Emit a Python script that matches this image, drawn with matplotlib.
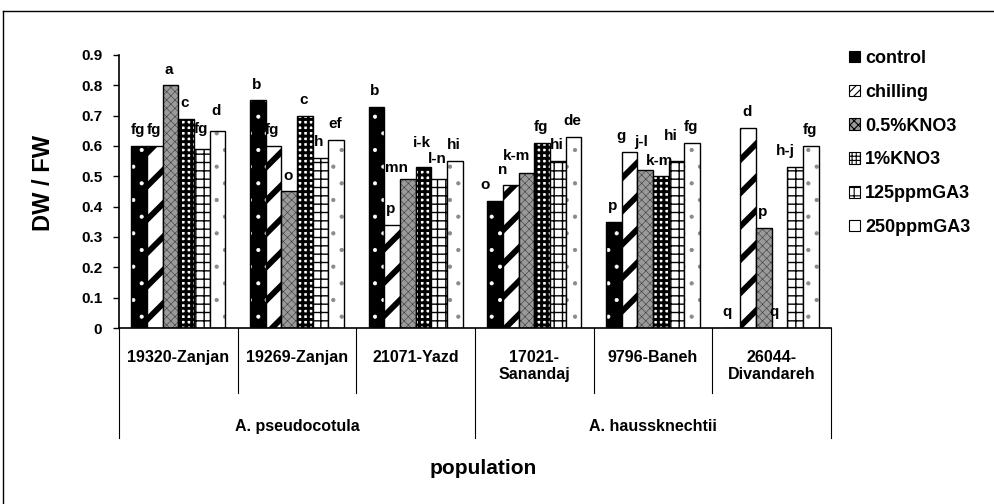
import numpy as np
import matplotlib
matplotlib.use('Agg')
import matplotlib.pyplot as plt
from matplotlib.patches import Patch
from matplotlib.lines import Line2D

plt.rcParams['font.family'] = ['Liberation Sans', 'DejaVu Sans']
plt.rcParams['font.weight'] = 'bold'

# populations (x categories) and the species they belong to
populations = ['19320-Zanjan', '19269-Zanjan', '21071-Yazd',
               '17021-\nSanandaj', '9796-Baneh', '26044-\nDivandareh']
species = ['A. pseudocotula', 'A. haussknechtii']
species_span = [3, 3]

treatments = ['control', 'chilling', '0.5%KNO3', '1%KNO3', '125ppmGA3', '250ppmGA3']

# DW / FW ratio per treatment, one value per population
control = [0.60, 0.75, 0.73, 0.42, 0.35, 0.00]
chilling = [0.60, 0.60, 0.34, 0.47, 0.58, 0.66]
kno3_05 = [0.80, 0.45, 0.49, 0.51, 0.52, 0.33]
kno3_1 = [0.69, 0.70, 0.53, 0.61, 0.50, 0.00]
ga3_125 = [0.59, 0.56, 0.49, 0.55, 0.55, 0.53]
ga3_250 = [0.65, 0.62, 0.55, 0.63, 0.61, 0.60]

# duncan letters, same order as the values
control_lbl = ['fg', 'b', 'b', 'o', 'p', 'q']
chilling_lbl = ['fg', 'fg', 'p', 'n', 'g', 'd']
kno3_05_lbl = ['a', 'o', 'mn', 'k-m', 'j-l', 'p']
kno3_1_lbl = ['c', 'c', 'i-k', 'fg', 'k-m', 'q']
ga3_125_lbl = ['fg', 'h', 'l-n', 'hi', 'hi', 'h-j']
ga3_250_lbl = ['d', 'ef', 'hi', 'de', 'fg', 'fg']

values = [control, chilling, kno3_05, kno3_1, ga3_125, ga3_250]
letters = [control_lbl, chilling_lbl, kno3_05_lbl, kno3_1_lbl, ga3_125_lbl, ga3_250_lbl]

# fill colour, hatch, hatch colour, hatch width for every treatment
styles = [
    ('black', '.', 'white', 0.5),
    ('white', '/', 'black', 4.2),
    ('#9a9a9a', 'xxxx', '#3a3a3a', 0.4),
    ('white', '+++', 'black', 2.1),
    ('white', '++', 'black', 1.0),
    ('white', '.', '#8a8a8a', 0.6),
]
# smaller patterns for the legend keys
legend_hatch = [None, '////', 'xxxx', '++++', '++', None]

# hand placed letters that would otherwise collide: (treatment, population) -> (dx, dy) in points
nudge = {(4, 0): (0, 3), (5, 0): (0, 3),
         (2, 2): (-7, -3), (3, 2): (0, 6), (4, 2): (0, 3),
         (0, 3): (-6, 0), (1, 3): (-5, 0), (2, 3): (-6, 1),
         (1, 4): (-5, 0), (2, 4): (-2, 9), (4, 4): (-3, 7),
         (0, 5): (-3, 0), (3, 5): (-3, 0), (4, 5): (-6, 0)}

fig = plt.figure(figsize=(9.94, 5.04), dpi=100)
ax = fig.add_axes([119/994, 1-328/504, (831-119)/994, (328-55)/504])

x = np.arange(len(populations))
w = 0.132

for i, (vals, lbls) in enumerate(zip(values, letters)):
    face, hatch, hcol, hlw = styles[i]
    pos = x + (i - 2.5) * w
    plt.rcParams['hatch.linewidth'] = hlw
    bars = ax.bar(pos, vals, w, color=face, hatch=hatch, edgecolor=hcol, linewidth=0)
    for b in bars:
        if hasattr(b, 'set_hatch_linewidth'):
            b.set_hatch_linewidth(hlw)
    # outline on top of the hatched fill
    ax.bar(pos, vals, w, fill=False, edgecolor='black', linewidth=1.0)
    for j, (p, v, t) in enumerate(zip(pos, vals, lbls)):
        dx, dy = nudge.get((i, j), (0, 0))
        ax.annotate(t, (p, v), xytext=(dx - 1, 8.5 + dy), textcoords='offset points',
                    ha='center', va='baseline', fontsize=11, fontweight='bold')

ax.set_xlim(-0.5, len(populations) - 0.5)
ax.set_ylim(0, 0.9)
ax.set_yticks(np.arange(0, 0.91, 0.1))
ax.set_yticklabels(['0'] + ['%.1f' % t for t in np.arange(0.1, 0.91, 0.1)])
ax.tick_params(axis='y', direction='out', length=4, width=1, pad=8, labelsize=11)
ax.set_xticks([])
for s in ['top', 'right']:
    ax.spines[s].set_visible(False)
ax.spines['left'].set_linewidth(1.2)
ax.spines['bottom'].set_linewidth(1.2)

# two level category axis under the bars
trans = ax.get_xaxis_transform()
bounds = np.arange(len(populations) + 1) - 0.5
species_edges = np.concatenate([[0], np.cumsum(species_span)]) - 0.5
for b in bounds:
    low = -0.403 if b in species_edges else -0.238
    ax.add_line(Line2D([b, b], [0, low], transform=trans, color='black',
                       linewidth=0.8, clip_on=False))
for xi, name in zip(x, populations):
    ax.text(xi, -0.08, name, transform=trans, ha='center', va='top',
            fontsize=11.5, fontweight='bold', linespacing=1.2)
for k, name in enumerate(species):
    mid = (species_edges[k] + species_edges[k + 1]) / 2
    ax.text(mid, -0.36, name, transform=trans, ha='center', va='center',
            fontsize=11.5, fontweight='bold')

fig.text(44/994, 1-183/504, 'DW / FW', rotation=90, ha='center', va='center',
         fontsize=17, fontweight='bold')
fig.text(483/994, 1-469/504, 'population', ha='center', va='center',
         fontsize=15, fontweight='bold')

plt.rcParams['hatch.linewidth'] = 0.8
handles = []
for (face, hatch, hcol, hlw), lh in zip(styles, legend_hatch):
    handles.append(Patch(facecolor=face, edgecolor='black', hatch=lh, linewidth=0.8))
fig.legend(handles, treatments, loc='upper left', bbox_to_anchor=(849/994, 1-50/504),
           frameon=False, prop={'size': 13, 'weight': 'bold'}, handlelength=0.6,
           handleheight=0.6, handletextpad=0.3, labelspacing=0.93, borderpad=0,
           borderaxespad=0)

# outer frame, only top and left edges show
fig.add_artist(Line2D([3/994, 1], [1-11/504, 1-11/504], transform=fig.transFigure,
                      color='black', linewidth=1))
fig.add_artist(Line2D([3/994, 3/994], [0, 1-11/504], transform=fig.transFigure,
                      color='black', linewidth=1))

plt.savefig('out.png', dpi=100)
